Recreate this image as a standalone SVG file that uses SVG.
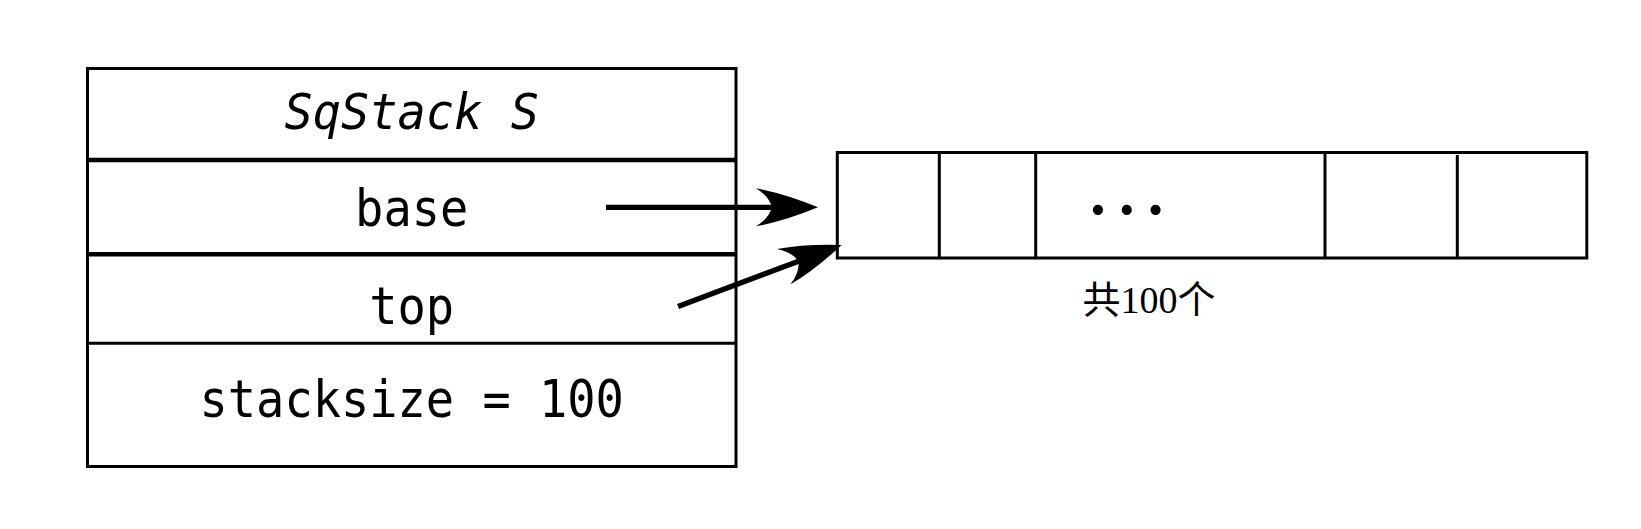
<svg xmlns="http://www.w3.org/2000/svg" width="1641" height="529" viewBox="0 0 1641 529">
<style>
.frame{fill:none;stroke:#000;stroke-width:3}
.thick{stroke:#000;stroke-width:4.5}
.thin{stroke:#000;stroke-width:3}
.mono{font-family:"DejaVu Sans Mono","Liberation Mono",monospace;font-size:47px;fill:#000;text-anchor:middle}
.ital{font-style:italic}
.conn{stroke:#000;stroke-width:5.3;fill:none}
.cap{font-family:"Liberation Serif","Noto Sans CJK SC",serif;font-size:38px;fill:#000;text-anchor:middle}
.dots{font-family:"Liberation Serif",serif;font-size:86px;fill:#000;text-anchor:middle}
</style>
<defs>
<marker id="head" markerUnits="userSpaceOnUse" markerWidth="64" markerHeight="40" refX="16" refY="19" orient="auto" overflow="visible">
<path d="M62,19 Q28,5 0,0 Q13,8 16,19 Q13,30 0,38 Q28,33 62,19 Z" fill="#000"/>
</marker>
</defs>
<rect width="1641" height="529" fill="#fff"/>
<g id="sqstack">
<rect class="frame" x="87.5" y="68.5" width="648.5" height="398"/>
<line class="thick" x1="87.5" y1="160" x2="736" y2="160"/>
<line class="thick" x1="87.5" y1="254.3" x2="736" y2="254.3"/>
<line class="thin" x1="87.5" y1="343.3" x2="736" y2="343.3"/>
<text class="mono ital" transform="translate(411.7,129) scale(1,1.07)">SqStack S</text>
<text class="mono" transform="translate(411.7,225.5) scale(1,1.08)">base</text>
<text class="mono" transform="translate(411.7,324) scale(1,1.08)">top</text>
<text class="mono" transform="translate(411.7,416.5) scale(1,1.08)">stacksize = 100</text>
</g>
<g id="array">
<rect class="frame" x="837.3" y="152.5" width="749.5" height="105.5"/>
<line class="thin" x1="939.3" y1="152.5" x2="939.3" y2="258"/>
<line class="thin" x1="1035.7" y1="152.5" x2="1035.7" y2="258"/>
<line class="thin" x1="1325" y1="152.5" x2="1325" y2="258"/>
<line class="thin" x1="1457.3" y1="155" x2="1457.3" y2="258"/>
<text class="dots" x="1126.7" y="213.5">…</text>
<text class="cap" x="1149" y="313">共100个</text>
</g>
<g id="connectors">
<line class="conn" x1="606" y1="207.3" x2="772" y2="207.3" marker-end="url(#head)"/>
<line class="conn" x1="678" y1="306.5" x2="798.6" y2="261.2" marker-end="url(#head)"/>
</g>
</svg>
